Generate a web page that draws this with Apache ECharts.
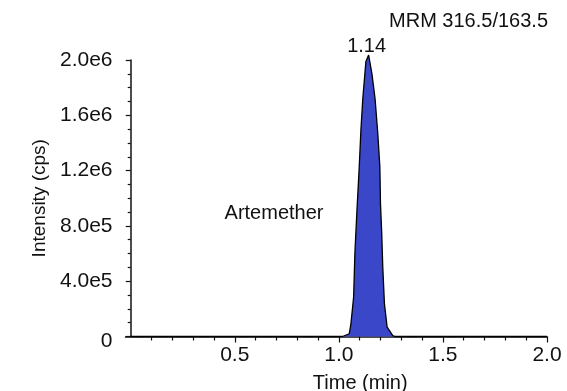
<!DOCTYPE html>
<html>
<head>
<meta charset="utf-8">
<script src="https://cdn.jsdelivr.net/npm/echarts@6/dist/echarts.min.js"></script>
<style>
  html, body { margin: 0; padding: 0; background: #fff; }
  #chart { width: 567px; height: 391px; }
</style>
</head>
<body>
<div id="chart"></div>
<script>
// retention time (min) and intensity (cps)
const times = [0, 0.5, 1.0, 1.018, 1.05, 1.058, 1.071, 1.077, 1.087, 1.098, 1.106, 1.115, 1.13, 1.143,
  1.159, 1.174, 1.187, 1.197, 1.2, 1.206, 1.211, 1.219, 1.232, 1.259, 1.27, 1.5, 2.0];
const intensity = [0, 0, 0, 0, 20000, 92000, 285000, 600000, 913000, 1227000, 1493000, 1720000, 1990000, 2036000,
  1900000, 1720000, 1470000, 1227000, 962000, 744000, 502000, 237000, 67000, 7000, 0, 0, 0];
const majorX = [0.5, 1.0, 1.5, 2.0];
const minorX = [0.1, 0.2, 0.3, 0.4, 0.6, 0.7, 0.8, 0.9, 1.1, 1.2, 1.3, 1.4, 1.6, 1.7, 1.8, 1.9];
const peakTime = "1.14";
const compound = "Artemether";
const transition = "MRM 316.5/163.5";

const font = "'Liberation Sans', Arial, sans-serif";
const ink = "#111";

const peakIdx = intensity.indexOf(Math.max(...intensity));
const seriesData = times.map((t, i) => [t, intensity[i]]);

const fmtY = (v) => (v === 0 ? "{z|0}" : v.toExponential(1).replace("e+", "e"));

const chart = echarts.init(document.getElementById("chart"));
chart.setOption({
  animation: false,
  grid: { left: 125.5, right: 20, top: 60, bottom: 54.5, outerBoundsMode: "none" },
  xAxis: [
    {
      type: "value",
      min: -0.025,
      max: 2.0,
      splitLine: { show: false },
      axisLine: { show: true, lineStyle: { color: ink, width: 1.5 } },
      axisTick: { show: true, customValues: majorX, length: 6, lineStyle: { color: ink, width: 1.2 } },
      axisLabel: { customValues: majorX, margin: 8, fontSize: 21, fontFamily: font, color: ink,
        formatter: (v) => v.toFixed(1) },
      name: "Time (min)",
      nameLocation: "middle",
      nameGap: 37,
      nameTextStyle: { fontSize: 20, fontFamily: font, color: ink, padding: [0, 0, 0, 48] },
    },
    {
      type: "value",
      min: -0.025,
      max: 2.0,
      position: "bottom",
      splitLine: { show: false },
      axisLine: { show: false },
      axisTick: { show: true, customValues: minorX, length: 4, lineStyle: { color: ink, width: 1.2 } },
      axisLabel: { show: false },
    },
  ],
  yAxis: {
    type: "value",
    min: 0,
    max: 2000000,
    interval: 400000,
    splitLine: { show: false },
    axisLine: { show: true, lineStyle: { color: ink, width: 1.5 } },
    axisTick: { show: true, length: 5, lineStyle: { color: ink, width: 1.2 } },
    minorTick: { show: true, splitNumber: 4, length: 3, lineStyle: { color: ink, width: 1.2 } },
    axisLabel: {
      margin: 13, fontSize: 21, fontFamily: font, color: ink, formatter: fmtY,
      rich: { z: { fontSize: 21, fontFamily: font, color: ink, padding: [10, 0, 0, 0] } },
    },
    name: "Intensity (cps)",
    nameLocation: "middle",
    nameGap: 76,
    nameTextStyle: { fontSize: 19, fontFamily: font, color: ink },
  },
  series: [
    {
      type: "line",
      xAxisIndex: 0,
      data: seriesData,
      symbol: "none",
      clip: false,
      lineStyle: { color: "#000", width: 1.3 },
      areaStyle: { color: "#3b47c9", opacity: 1 },
      z: 3,
    },
  ],
});

// peak apex sits above the axis max, so place its label from the converted point
const apex = chart.convertToPixel({ xAxisIndex: 0, yAxisIndex: 0 }, seriesData[peakIdx]);
chart.setOption({
  graphic: [
    {
      type: "text", x: 548, y: 21,
      style: { text: transition, font: "20px " + font, fill: ink, align: "right", verticalAlign: "middle" },
    },
    {
      type: "text", x: 274, y: 213,
      style: { text: compound, font: "20px " + font, fill: ink, align: "center", verticalAlign: "middle" },
    },
    {
      type: "text", x: apex[0] - 2, y: apex[1] + 1,
      style: { text: peakTime, font: "20px " + font, fill: ink, align: "center", verticalAlign: "bottom" },
    },
  ],
});
</script>
</body>
</html>
